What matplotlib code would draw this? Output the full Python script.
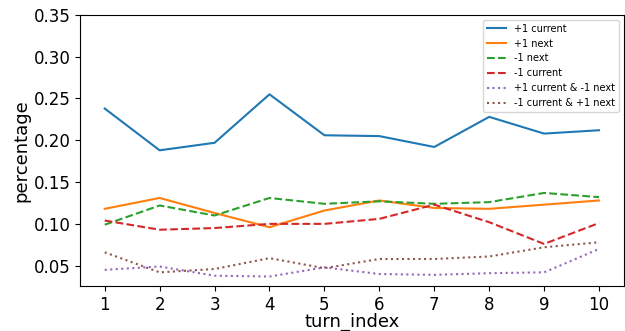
import numpy as np
import matplotlib
matplotlib.use('Agg')
import matplotlib.pyplot as plt

# turn index and the six series
turns = [1, 2, 3, 4, 5, 6, 7, 8, 9, 10]
pos_current = [0.238, 0.188, 0.197, 0.255, 0.206, 0.205, 0.192, 0.228, 0.208, 0.212]
pos_next = [0.118, 0.131, 0.113, 0.096, 0.116, 0.128, 0.119, 0.118, 0.123, 0.128]
neg_next = [0.099, 0.122, 0.110, 0.131, 0.124, 0.127, 0.124, 0.126, 0.137, 0.132]
neg_current = [0.104, 0.093, 0.095, 0.100, 0.100, 0.106, 0.123, 0.102, 0.076, 0.101]
pos_cur_neg_next = [0.045, 0.049, 0.038, 0.037, 0.048, 0.040, 0.039, 0.041, 0.042, 0.070]
neg_cur_pos_next = [0.066, 0.042, 0.046, 0.059, 0.047, 0.058, 0.058, 0.061, 0.072, 0.078]

fig = plt.figure(figsize=(6.25, 3.31), dpi=100)
ax = fig.add_axes([0.128, 0.136, 0.87, 0.819])

ax.plot(turns, pos_current, label='+1 current')
ax.plot(turns, pos_next, label='+1 next')
ax.plot(turns, neg_next, '--', label='-1 next')
ax.plot(turns, neg_current, '--', label='-1 current')
ax.plot(turns, pos_cur_neg_next, ':', label='+1 current & -1 next')
ax.plot(turns, neg_cur_pos_next, ':', label='-1 current & +1 next')

ax.set_ylim(0.0257, 0.35)
ax.set_xticks(turns)
ax.tick_params(labelsize=12)
ax.set_xlabel('turn_index', fontsize=13, labelpad=-1)
ax.set_ylabel('percentage', fontsize=13, labelpad=2)
ax.legend(fontsize=7, loc='upper right')

fig.savefig('out.png', dpi=100)
